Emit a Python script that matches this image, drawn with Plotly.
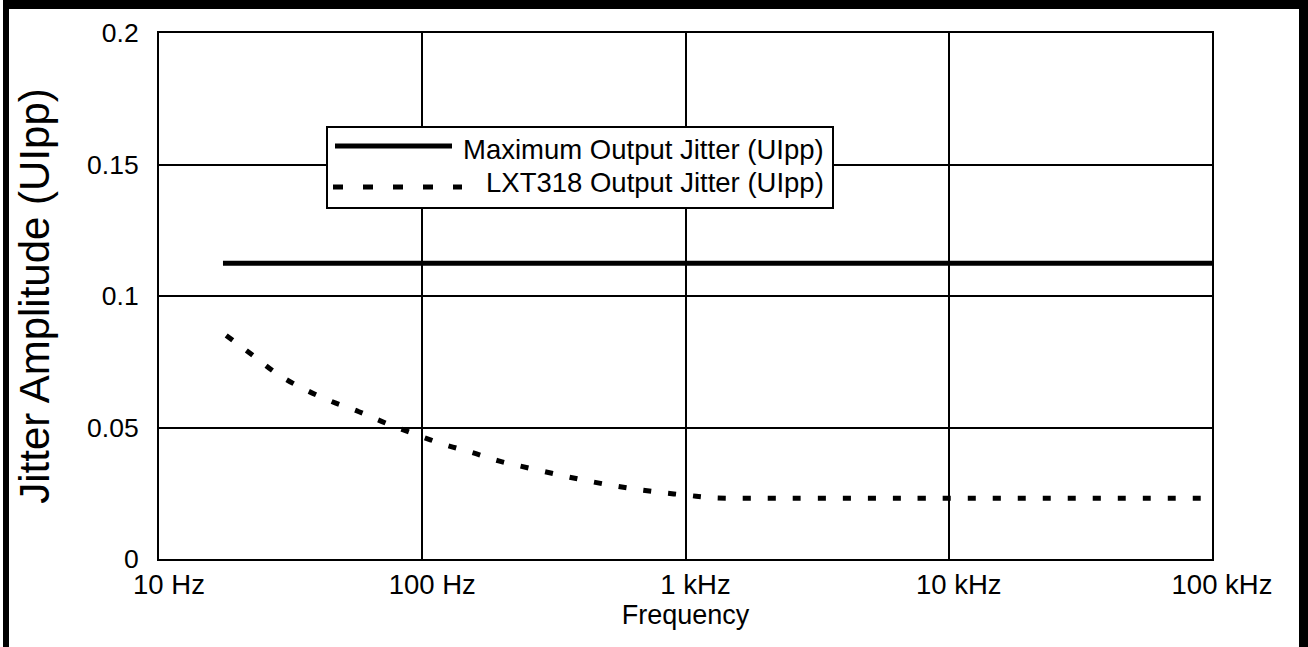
import plotly.graph_objects as go

# ---- data ----
max_freq = [17.5, 100000]
max_jitter = [0.1125, 0.1125]

lxt_freq = [18, 23, 28.5, 35.6, 45, 57.5, 73, 93, 119, 153, 195, 251, 330, 420,
            531, 661, 822, 1023, 1270, 2000, 5000, 10000, 100000]
lxt_jitter = [0.085, 0.077, 0.070, 0.0646, 0.060, 0.056, 0.0516, 0.0476, 0.0438,
              0.0406, 0.0373, 0.0347, 0.0320, 0.0298, 0.0279, 0.0264, 0.0252,
              0.0242, 0.0233, 0.0231, 0.0231, 0.0231, 0.0231]

x_tickvals = [10, 100, 1000, 10000, 100000]
x_ticktext = ["10 Hz", "100 Hz", "1 kHz", "10 kHz", "100 kHz"]
y_tickvals = [0, 0.05, 0.1, 0.15, 0.2]
y_ticktext = ["0", "0.05", "0.1", "0.15", "0.2"]

series_names = ["Maximum Output Jitter (UIpp)", "LXT318 Output Jitter (UIpp)"]

# ---- layout constants ----
W, H = 1308, 647
L, R, T, B = 159, 96, 33, 88
PW, PH = W - L - R, H - T - B
FONT = "Liberation Sans, Arial, sans-serif"


def px(x):
    return (x - L) / PW


def py(y):
    return (H - B - y) / PH


fig = go.Figure()
fig.add_trace(go.Scatter(x=max_freq, y=max_jitter, mode="lines", name=series_names[0],
                         line=dict(color="black", width=5), showlegend=False))
fig.add_trace(go.Scatter(x=lxt_freq, y=lxt_jitter, mode="lines", name=series_names[1],
                         line=dict(color="black", width=5, dash="8px,17px", shape="spline"),
                         showlegend=False))

shapes = []
# outer frame (left, top, right bars)
for x0, y0, x1, y1 in [(3, 0, 9, H + 5), (3, 0, W, 9), (1299, 0, W, H + 5)]:
    shapes.append(dict(type="rect", xref="paper", yref="paper",
                       x0=px(x0), x1=px(x1), y0=py(y1), y1=py(y0),
                       fillcolor="black", line=dict(width=0), layer="above"))
# legend box
shapes.append(dict(type="rect", xref="paper", yref="paper",
                   x0=px(327), x1=px(833), y0=py(208), y1=py(127),
                   fillcolor="white", line=dict(color="black", width=2), layer="above"))
shapes.append(dict(type="line", xref="paper", yref="paper",
                   x0=px(335), x1=px(452), y0=py(146), y1=py(146),
                   line=dict(color="black", width=5), layer="above"))
shapes.append(dict(type="line", xref="paper", yref="paper",
                   x0=px(333), x1=px(462), y0=py(187), y1=py(187),
                   line=dict(color="black", width=5, dash="10px,20px"), layer="above"))

annotations = [
    dict(xref="paper", yref="paper", x=px(826), y=py(149), text=series_names[0],
         showarrow=False, xanchor="right", yanchor="middle",
         font=dict(family=FONT, size=27.5, color="black")),
    dict(xref="paper", yref="paper", x=px(826), y=py(182), text=series_names[1],
         showarrow=False, xanchor="right", yanchor="middle",
         font=dict(family=FONT, size=27.5, color="black")),
]

fig.update_layout(
    width=W, height=H,
    margin=dict(l=L, r=R, t=T, b=B, pad=0),
    paper_bgcolor="white", plot_bgcolor="white",
    font=dict(family=FONT, size=27, color="black"),
    shapes=shapes, annotations=annotations,
    showlegend=False,
)
fig.update_xaxes(type="log", range=[1, 5], tickvals=x_tickvals, ticktext=x_ticktext,
                 tickfont=dict(size=27.5),
                 showgrid=True, gridcolor="black", gridwidth=2,
                 showline=True, linecolor="black", linewidth=2, mirror=True,
                 ticks="", ticklen=0, ticklabelstandoff=0, ticklabelshift=10,
                 title=dict(text="Frequency", standoff=6, font=dict(size=27)),
                 zeroline=False)
fig.update_yaxes(range=[0, 0.2], tickvals=y_tickvals, ticktext=y_ticktext,
                 tickfont=dict(size=26.5),
                 showgrid=True, gridcolor="black", gridwidth=2,
                 showline=True, linecolor="black", linewidth=2, mirror=True,
                 ticks="", ticklen=0, ticklabelstandoff=13,
                 title=dict(text="Jitter Amplitude (UIpp)", standoff=24, font=dict(size=42)),
                 zeroline=False)

fig.write_html("out.html", config={"displayModeBar": False},
               post_script="document.body.style.margin='0';")
